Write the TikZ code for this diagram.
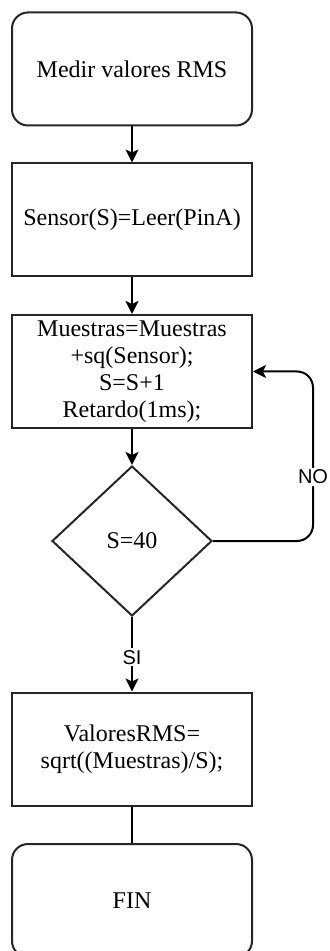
\documentclass[tikz,border=0pt]{standalone}
\usepackage{fontspec}
\setmainfont{Liberation Serif}
\setsansfont{Liberation Sans}
\usetikzlibrary{arrows.meta}
\usetikzlibrary{shapes.geometric}

\begin{document}
\begin{tikzpicture}[x=0.5pt, y=-0.5pt, line width=1pt,
        >={Stealth[length=6.5pt, width=6.5pt, inset=1.5pt]},
        proc/.style={draw=black!85, minimum width=120pt, minimum height=56.5pt,
            align=center, inner sep=1.5pt, font=\fontsize{12}{13.5}\selectfont},
        term/.style={proc, rounded corners=8pt},
        cond/.style={draw=black!85, diamond, minimum width=80pt, minimum height=75pt,
            inner sep=0pt, font=\fontsize{12}{13.5}\selectfont},
        lbl/.style={fill=white, inner sep=1pt, font=\sffamily\fontsize{10}{11}\selectfont}]
        \useasboundingbox (0, 0) rectangle (329, 951);

        \node (1) [term] at (132, 69)    {Medir valores RMS};
        \node (2) [proc] at (132, 220)   {Sensor(S)=Leer(PinA)};
        \node (3) [proc] at (132, 371.5) {Muestras=Muestras\\+sq(Sensor);\\S=S+1\\Retardo(1ms);};
        \node (4) [cond] at (132, 541)   {S=40};
        \node (5) [proc] at (132, 749)   {ValoresRMS=\\sqrt((Muestras)/S);};
        \node (6) [term] at (132, 900.5) {FIN};
        \coordinate (7) at (313, 477);

        \draw[->] (1) edge (2);
        \draw[->] (2) edge (3);
        \draw[->] (3) edge (4);
        \draw[->] (4) -- node[lbl, pos=0.54] {SI} (5);
        \draw (5) -- (6);
        \draw[->, rounded corners=8pt] (4.east) -| (7) node[lbl] {NO} |- (3.east);
      \end{tikzpicture}
\end{document}
